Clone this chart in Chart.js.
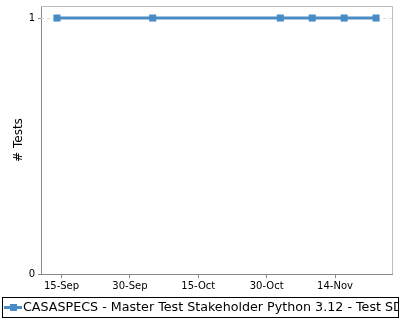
<!DOCTYPE html>
<html>
<head>
<meta charset="utf-8">
<script src="https://cdn.jsdelivr.net/npm/chart.js@4.4.0/dist/chart.umd.min.js"></script>
<style>
html,body{margin:0;padding:0;background:#fff;}
#wrap{width:400px;height:320px;position:relative;}
</style>
</head>
<body>
<div id="wrap"><canvas id="c" width="400" height="320"></canvas></div>
<script>
// ---- data ----
const seriesLabel = "CASASPECS - Master Test Stakeholder Python 3.12 - Test SD";
const runDates = ["2023-09-14", "2023-10-05", "2023-11-02", "2023-11-09", "2023-11-16", "2023-11-23"];
const testCounts = [1, 1, 1, 1, 1, 1];
const xTickDates = ["2023-09-15", "2023-09-30", "2023-10-15", "2023-10-30", "2023-11-14"];
const yTickValues = [0, 1];
const monthNames = ["Jan","Feb","Mar","Apr","May","Jun","Jul","Aug","Sep","Oct","Nov","Dec"];

const DAY = 86400000;
function toDay(s){ const p = s.split('-').map(Number); return Date.UTC(p[0], p[1]-1, p[2]) / DAY; }
function fmtDay(d){ const dt = new Date(d*DAY); return String(dt.getUTCDate()).padStart(2,'0') + '-' + monthNames[dt.getUTCMonth()]; }

const pts = runDates.map((d,i)=>({x: toDay(d), y: testCounts[i]}));
const xs = pts.map(p=>p.x);
const span = Math.max(...xs) - Math.min(...xs);
const xMin = Math.min(...xs) - span*0.05;
const xMax = Math.max(...xs) + span*0.05;

const lineColor = '#4a8bc6';
const font = "'DejaVu Sans', sans-serif";

const framePlugin = {
  id: 'frame',
  beforeDatasetsDraw(chart){
    const {ctx, chartArea:a, scales:{y}} = chart;
    ctx.save();
    ctx.strokeStyle = '#dcdcdc';
    ctx.lineWidth = 1;
    ctx.setLineDash([3,3]);
    yTickValues.forEach(v=>{
      if (v === 0) return;
      const py = Math.floor(y.getPixelForValue(v)) + 0.5;
      ctx.beginPath(); ctx.moveTo(a.left, py); ctx.lineTo(a.right, py); ctx.stroke();
    });
    ctx.setLineDash([]);
    ctx.strokeStyle = '#bdbdbd';
    ctx.beginPath();
    ctx.moveTo(a.left, Math.round(a.top) + 0.5); ctx.lineTo(Math.round(a.right) + 0.5, Math.round(a.top) + 0.5); ctx.lineTo(Math.round(a.right) + 0.5, a.bottom);
    ctx.stroke();
    ctx.restore();
  },
  afterDraw(chart){
    const ctx = chart.ctx;
    ctx.save();
    ctx.strokeStyle = '#000';
    ctx.lineWidth = 1;
    ctx.strokeRect(2.5, 297.5, 396, 20);
    ctx.beginPath(); ctx.rect(3, 298, 395, 19); ctx.clip();
    const cy = 307.5;
    ctx.strokeStyle = lineColor;
    ctx.lineWidth = 3;
    ctx.beginPath(); ctx.moveTo(4, cy); ctx.lineTo(22, cy); ctx.stroke();
    ctx.fillStyle = lineColor;
    ctx.fillRect(10, cy-3.5, 7, 7);
    ctx.fillStyle = '#000';
    ctx.font = "12.7px " + font;
    ctx.textBaseline = 'middle';
    ctx.fillText(chart.data.datasets[0].label, 23, cy + 0.5);
    ctx.restore();
  }
};

new Chart(document.getElementById('c'), {
  type: 'line',
  data: {
    datasets: [{
      label: seriesLabel,
      data: pts,
      borderColor: lineColor,
      backgroundColor: lineColor,
      borderWidth: 3,
      pointStyle: 'rect',
      pointRadius: 5,
      pointHoverRadius: 5,
      pointBorderWidth: 0,
      tension: 0,
      clip: false
    }]
  },
  options: {
    responsive: false,
    animation: false,
    events: [],
    layout: { padding: { top: 6, right: 8, left: 0, bottom: 0 } },
    plugins: { legend: { display: false }, tooltip: { enabled: false } },
    scales: {
      x: {
        type: 'linear',
        min: xMin, max: xMax,
        afterBuildTicks(s){ s.ticks = xTickDates.map(d=>({value: toDay(d)})); },
        afterFit(s){ s.height = 46; s.paddingLeft = 0; s.paddingRight = 0; },
        grid: { display: true, drawOnChartArea: false, tickLength: 4, tickColor: '#888' },
        border: { display: true, color: '#888' },
        ticks: {
          callback: v => fmtDay(v),
          color: '#000',
          font: { family: font, size: 10 },
          padding: 2,
          maxRotation: 0,
          autoSkip: false
        }
      },
      y: {
        type: 'linear',
        min: 0, max: 1.047,
        afterBuildTicks(s){ s.ticks = yTickValues.map(v=>({value: v})); },
        afterFit(s){ s.width = 41; s.paddingTop = 0; s.paddingBottom = 0; },
        grid: { display: true, drawOnChartArea: false, tickLength: 3, tickColor: '#888' },
        border: { display: true, color: '#888' },
        ticks: {
          callback: v => String(v),
          color: '#000',
          font: { family: font, size: 10 },
          padding: 3
        },
        title: {
          display: true,
          text: '# Tests',
          color: '#000',
          font: { family: font, size: 12 },
          padding: { top: 12, bottom: 0 }
        }
      }
    }
  },
  plugins: [framePlugin]
});
</script>
</body>
</html>
